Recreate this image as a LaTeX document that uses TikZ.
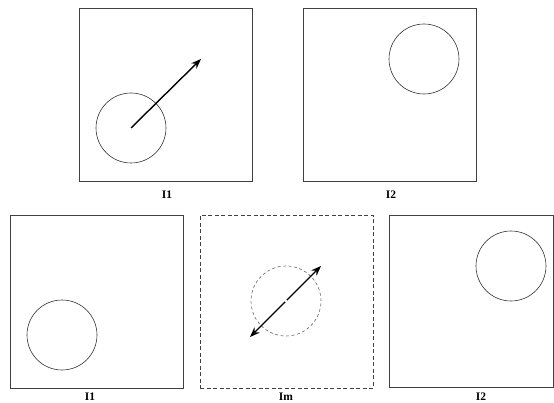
\documentclass[tikz,border=0pt]{standalone}
\usepackage{fontspec}
\setmainfont{Liberation Serif}
\usetikzlibrary{arrows.meta}
\begin{document}
\begin{tikzpicture}[x=1pt,y=-1pt,
  frame/.style={draw=black!75,line width=0.8pt,minimum width=173pt,minimum height=173pt,inner sep=0pt,anchor=north west},
  dframe/.style={frame,dash pattern=on 4pt off 2.5pt},
  ring/.style={circle,draw=black!80,line width=0.6pt,minimum size=70pt,inner sep=0pt},
  dring/.style={ring,draw=black!60,dash pattern=on 3pt off 2.5pt},
  motion/.style={line width=1.4pt,-{Stealth[length=10pt,width=7.5pt]}},
  lbl/.style={font=\fontsize{11.5pt}{14pt}\selectfont\bfseries,inner sep=0pt}]
\useasboundingbox (0,0) rectangle (554,403);
% top row
\node[frame] (b1) at (79,8) {};
\node[frame] (b2) at (303,8) {};
\node[ring] (c1) at (131,128) {};
\node[ring] (c2) at (424,59) {};
\coordinate (t1) at (201,59);
\draw[motion] (c1.center) -- (t1);
\node[lbl] (l1) at (167,195) {I1};
\node[lbl] (l2) at (391,195) {I2};
% bottom row
\node[frame] (b3) at (10,215) {};
\node[dframe] (b4) at (200,215) {};
\draw[draw=black!75,line width=0.8pt] (389,215) -- (553,215) -- (553,387) -- (389,387) -- cycle;
\node[ring] (c3) at (62,335) {};
\node[dring] (c4) at (286,301) {};
\node[ring] (c5) at (511,266) {};
\coordinate (a1) at (286.8,300.2);
\coordinate (a2) at (285.2,301.8);
\coordinate (t2) at (321,266);
\coordinate (t3) at (250,337);
\draw[motion] (a1) -- (t2);
\draw[motion] (a2) -- (t3);
\node[lbl] (l3) at (90,397) {I1};
\node[lbl] (l4) at (286,397) {Im};
\node[lbl] (l5) at (481,397) {I2};
\end{tikzpicture}
\end{document}
